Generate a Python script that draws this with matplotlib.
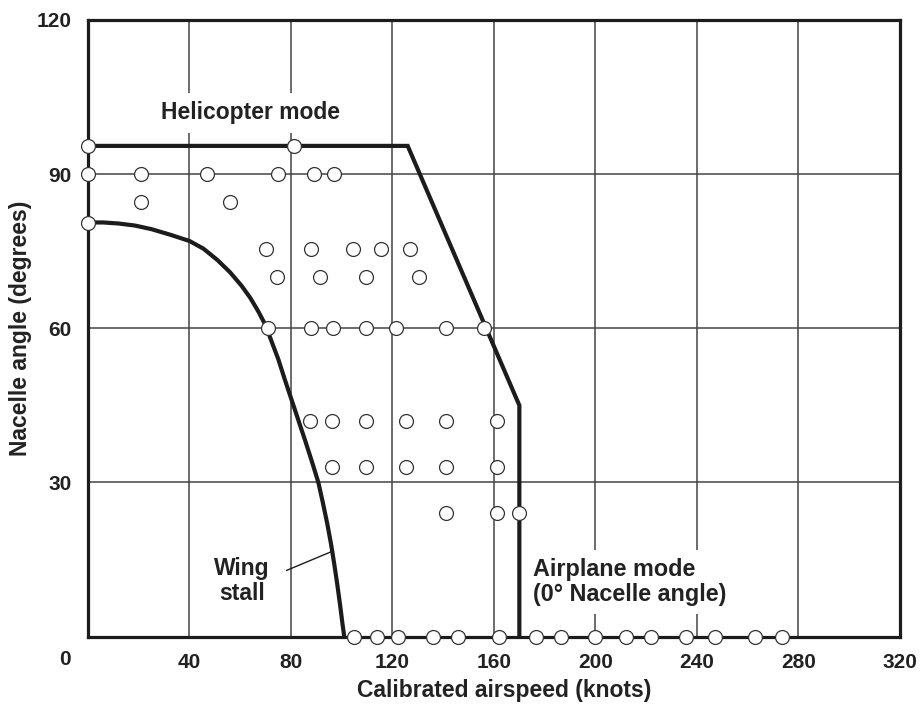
import matplotlib
matplotlib.use("Agg")
import matplotlib.pyplot as plt

plt.rcParams['font.family'] = ['Liberation Sans', 'DejaVu Sans']
plt.rcParams['font.weight'] = 'bold'

# conversion corridor boundary (helicopter mode -> airplane mode)
boundary_kts = [0, 126, 170, 170]
boundary_deg = [95.5, 95.5, 45, 0]

# wing stall limit
stall_kts = [0, 6, 12, 18.5, 25, 32.5, 40, 45.5, 51, 56, 60.5, 64, 67, 70, 72.4, 75,
             77.6, 80.3, 83, 85.7, 88.3, 90.8, 92.6, 94.3, 95.8, 97.1, 98.3, 99.4, 100.3, 101]
stall_deg = [80.6, 80.6, 80.4, 80, 79.3, 78.2, 77, 75.5, 73.3, 70.9, 68.3, 65.9, 63.4, 60.6, 57.4, 54,
             50, 46, 42, 38, 34, 30, 26, 22, 18, 14, 10, 6, 2.5, 0]

# flight test points, one list per nacelle angle
row_angle = [95.5, 90, 84.5, 80.5, 75.5, 70, 60, 42, 33, 24, 0]
row_speeds = [
    [0, 81],
    [0, 21, 47, 75, 89, 97],
    [21, 56],
    [0],
    [70, 88, 104.5, 115.5, 127],
    [74.5, 91.5, 109.5, 130.5],
    [71, 88, 96.5, 109.5, 121.5, 141, 156],
    [87.5, 96, 109.5, 125.5, 141, 161],
    [96, 109.5, 125.5, 141, 161],
    [141, 161, 170],
    [105, 114, 122, 136, 146, 162, 176.5, 186.5, 200, 212, 222, 235.5, 247, 263, 273.5],
]

xticks = [0, 40, 80, 120, 160, 200, 240, 280, 320]
yticks = [30, 60, 90, 120]

ink = '#1c1c1c'
txt = '#222222'

fig = plt.figure(figsize=(9.21, 7.06), dpi=100)
ax = fig.add_axes([0.0955, 0.0982, 0.8817, 0.8735])

ax.set_xlim(0, 320)
ax.set_ylim(0, 120)
ax.set_xticks(xticks)
ax.set_xticklabels([''] + [str(v) for v in xticks[1:]])
ax.set_yticks(yticks)
ax.set_yticklabels([str(v) for v in yticks])
ax.tick_params(length=0, labelsize=15, colors=txt, pad=12)
ax.grid(True, color='#444444', lw=1.1, zorder=1)
ax.set_axisbelow(True)
for s in ax.spines.values():
    s.set_linewidth(2.3)
    s.set_color(ink)
    s.set_zorder(3)

# x "0" label sits left of the axis in the original
ax.annotate('0', xy=(0, 0), xycoords=('data', 'axes fraction'), xytext=(-23, -23),
            textcoords='offset pixels', ha='center', va='center', fontsize=15, color=txt)

ax.plot(boundary_kts, boundary_deg, color=ink, lw=3.0, zorder=4, solid_joinstyle='miter')
ax.plot(stall_kts, stall_deg, color=ink, lw=3.0, zorder=4, clip_on=False)

for ang, spds in zip(row_angle, row_speeds):
    ax.plot(spds, [ang] * len(spds), ls='none', marker='o', ms=10, mfc='white',
            mec='#333333', mew=0.9, zorder=6, clip_on=False)

box = dict(fc='white', ec='none', boxstyle='square,pad=0.35')
ax.text(64.2, 101.9, 'Helicopter mode', ha='center', va='center', fontsize=16.5,
        color=txt, bbox=box, zorder=2)
ax.text(60.6, 10.8, 'Wing\nstall', ha='center', va='center', fontsize=16.5,
        color=txt, linespacing=1.1, zorder=2,
        bbox=dict(fc='white', ec='none', boxstyle='square,pad=0.85'))
ax.plot([78.3, 96.7], [12.9, 16.7], color=ink, lw=1.0, zorder=4)
ax.text(175.4, 10.6, 'Airplane mode\n(0\u00b0 Nacelle angle)', ha='left', va='center',
        fontsize=16.8, color=txt, linespacing=1.1, bbox=box, zorder=2)

ax.set_xlabel('Calibrated airspeed (knots)', fontsize=16.5, color=txt, fontweight='bold')
ax.set_ylabel('Nacelle angle (degrees)', fontsize=16.5, color=txt, fontweight='bold')
ax.xaxis.set_label_coords(0.513, -0.068)
ax.yaxis.set_label_coords(-0.069, 0.5)

fig.savefig('out.png', dpi=100)
